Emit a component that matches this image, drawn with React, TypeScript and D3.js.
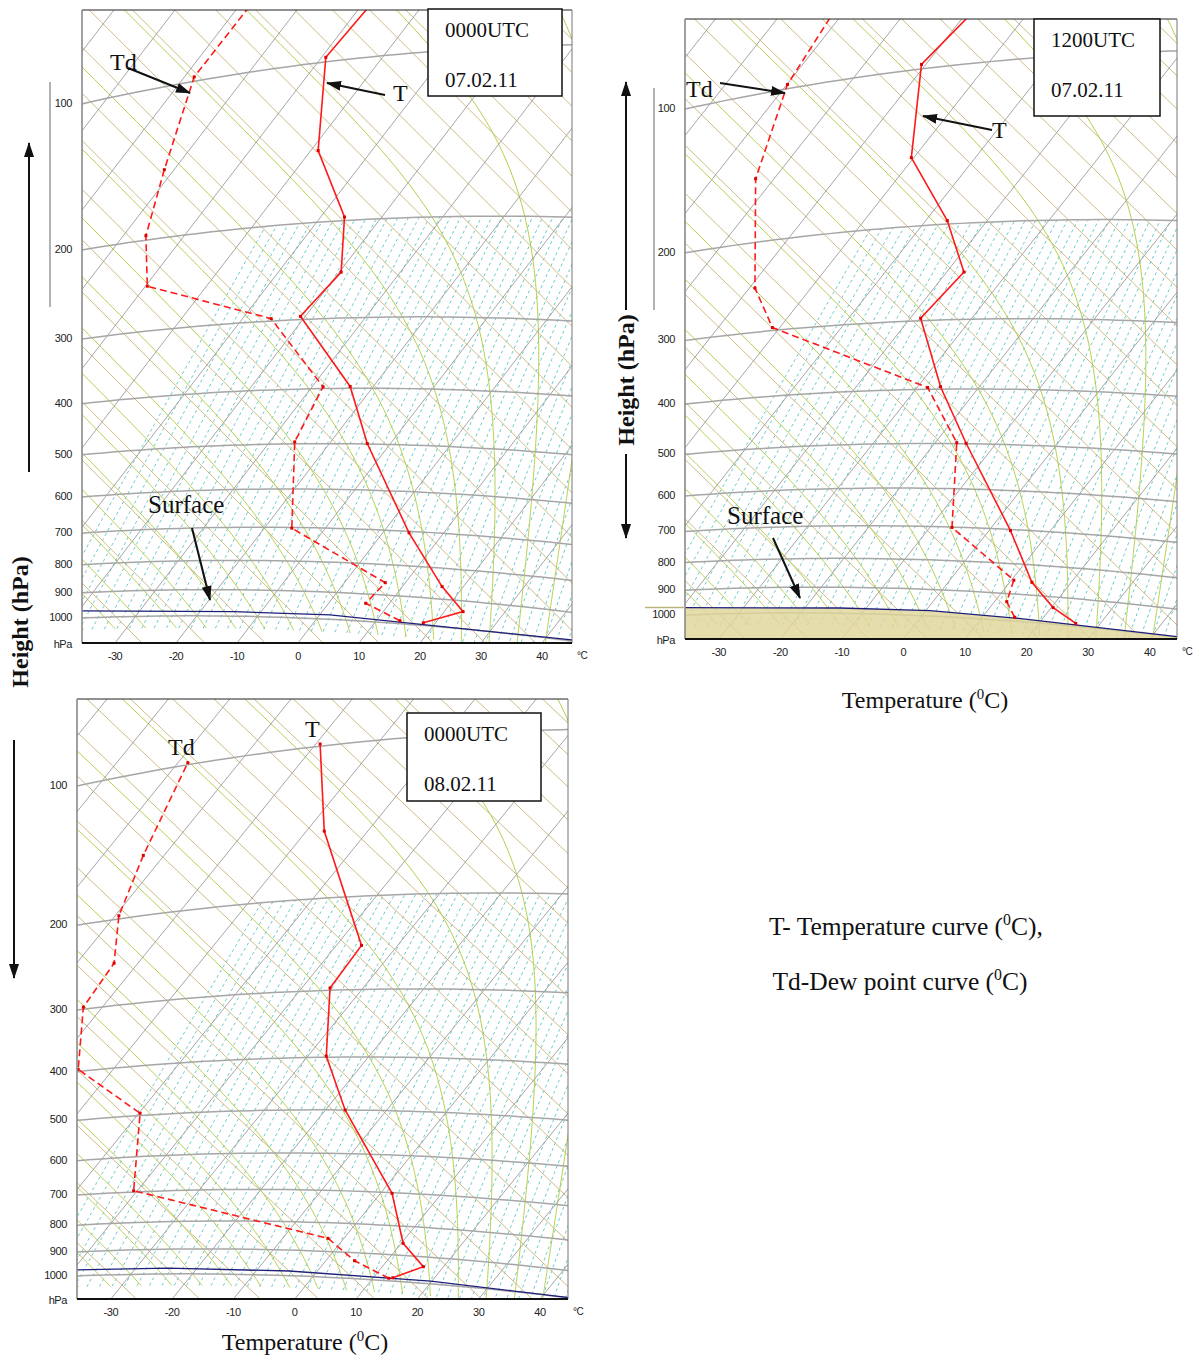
import React from "react";
import * as d3 from "d3";

// thermodynamic constants
const T0 = 273.15;
const KAPPA = 0.2857;
const EPS = 0.622;

// tephigram frame: screen x ~ AX*T + BX*phi, screen y ~ CY*T + DY*phi, phi = T0*ln(theta/T0)
const AX = 3.448, BX = 2.448, CY = 3.448, DY = -3.182;

const isobarLevels = [100, 200, 300, 400, 500, 600, 700, 800, 900, 1000];
const tempTicks = [-30, -20, -10, 0, 10, 20, 30, 40];
const isotherms = d3.range(-140, 61, 10);
const dryAdiabats = d3.range(200, 601, 10); // potential temperature, K
const moistAdiabats = d3.range(-45, 46, 5); // wet-bulb potential temperature, C
const mixDew = d3.range(-44, 45, 2); // dew point at 1000 hPa, C

// 0000UTC 07.02.11
const tempP1 = [990, 937, 858, 704, 499, 397, 296, 248, 197, 147, 98, 75];
const tempT1 = [18.0, 23.1, 16.5, 4.3, -13.8, -23.8, -40.8, -39.7, -46.1, -58.8, -69.3, -68.4];
const dewP1 = [989, 933, 858, 702, 496, 397, 297, 246, 196, 147, 98, 69];
const dewT1 = [13.9, 6.1, 6.7, -15.5, -25.9, -28.2, -45.3, -69.7, -76.3, -81.6, -88.4, -88.2];
const surfT1 = [-50, -39.4, -14.6, 1.7, 44.5, 50];
const surfP1 = [970, 971, 982, 983, 996, 997];

// 1200UTC 07.02.11
const tempP2 = [989, 938, 856, 703, 499, 396, 297, 246, 197, 148, 98, 74];
const tempT2 = [26.0, 20.3, 13.6, 3.5, -14.9, -26.3, -38.3, -37.2, -46.5, -60.4, -70.7, -68.5];
const dewP2 = [985, 929, 853, 701, 498, 397, 296, 246, 149, 98, 67];
const dewT2 = [15.3, 12.0, 10.4, -6.4, -16.5, -28.3, -61.2, -69.1, -83.0, -89.9, -92.1];
const surfT2 = [-50, -39.5, -14.3, 0.7, 16.1, 44.1, 50];
const surfP2 = [968, 969, 979, 979, 988, 997, 998];

// 0000UTC 08.02.11
const tempP3 = [987, 936, 857, 702, 500, 398, 297, 248, 148, 99];
const tempT3 = [13.2, 16.7, 10.3, 1.9, -16.8, -27.0, -35.4, -35.9, -57.1, -69.3];
const dewP3 = [990, 930, 853, 696, 495, 396, 297, 246, 197, 150, 99];
const dewT3 = [12.6, 4.7, -2.6, -40.6, -49.8, -65.7, -73.1, -73.9, -79.4, -83.4, -88.4];
const surfT3 = [-50, -39.4, -24.8, -4.6, 19.8, 44.2, 50];
const surfP3 = [973, 974, 976, 981, 989, 999, 1000];

type Panel = {
  id: string;
  left: number; right: number; top: number; bottom: number;
  x: d3.ScaleLinear<number, number>;
  y: d3.ScaleLinear<number, number>;
  temp: [number[], number[]];
  dew: [number[], number[]];
  surf: [number[], number[]];
  fill: boolean;
};

const mk = (ox: number, sx: number) => d3.scaleLinear().domain([0, 100]).range([ox, ox + 100 * sx]);

const panels: Panel[] = [
  { id: "a", left: 82, right: 572, top: 10, bottom: 643, x: mk(316.7, 1), y: mk(618.7, 1),
    temp: [tempT1, tempP1], dew: [dewT1, dewP1], surf: [surfT1, surfP1], fill: false },
  { id: "b", left: 685, right: 1177, top: 19, bottom: 639, x: mk(921.8, 1.009), y: mk(615.7, 0.984),
    temp: [tempT2, tempP2], dew: [dewT2, dewP2], surf: [surfT2, surfP2], fill: true },
  { id: "c", left: 77, right: 568, top: 699, bottom: 1299, x: mk(312.9, 1.005), y: mk(1276.6, 0.953),
    temp: [tempT3, tempP3], dew: [dewT3, dewP3], surf: [surfT3, surfP3], fill: false },
];

function proj(pn: Panel, t: number, p: number): [number, number] {
  const th = (t + T0) * Math.pow(1000 / p, KAPPA);
  const phi = T0 * Math.log(th / T0);
  return [pn.x(AX * t + BX * phi), pn.y(CY * t + DY * phi)];
}

const es = (tc: number) => 6.112 * Math.exp((17.67 * tc) / (tc + 243.5));

function lapse(tk: number, p: number) {
  const e = es(tk - T0);
  const rs = (EPS * e) / (p - e);
  const L = 2.501e6;
  return (287.04 * tk + L * rs) / (p * (1005.7 + (L * L * rs * EPS) / (287.04 * tk * tk)));
}

function moistCurve(tw: number): [number, number][] {
  const up: [number, number][] = [];
  let tk = tw + T0;
  for (let p = 1000; p >= 40; p -= 5) {
    up.push([tk - T0, p]);
    const k1 = lapse(tk, p);
    const k2 = lapse(tk - 5 * k1, p - 5);
    tk -= 2.5 * (k1 + k2);
  }
  const down: [number, number][] = [];
  tk = tw + T0;
  for (let p = 1000; p < 1050; p += 5) {
    const k1 = lapse(tk, p);
    const k2 = lapse(tk + 5 * k1, p + 5);
    tk += 2.5 * (k1 + k2);
    down.push([tk - T0, p + 5]);
  }
  return [...down.reverse(), ...up];
}

function mixCurve(td0: number): [number, number][] {
  const e0 = es(td0);
  const r = (EPS * e0) / (1000 - e0);
  return d3.range(1050, 199, -10).map((p) => {
    const e = (r * p) / (EPS + r);
    const l = Math.log(e / 6.112);
    return [(243.5 * l) / (17.67 - l), p] as [number, number];
  });
}

const line = d3.line();

function leftPoint(pn: Panel, p: number): [number, number] {
  let lo = -250, hi = 120;
  for (let i = 0; i < 60; i++) {
    const mid = (lo + hi) / 2;
    if (proj(pn, mid, p)[0] < pn.left) lo = mid; else hi = mid;
  }
  return proj(pn, lo, p);
}

function bottomX(pn: Panel, t: number) {
  const phi = (pn.y.invert(pn.bottom) - CY * t) / DY;
  return pn.x(AX * t + BX * phi);
}

const moistPaths = moistAdiabats.map(moistCurve);
const mixPaths = mixDew.map(mixCurve);

function SkewPanel({ pn }: { pn: Panel }) {
  const P = (pts: [number, number][]) => line(pts.map(([t, p]) => proj(pn, t, p))) || "";
  const pair = (ts: number[], ps: number[]) => ts.map((t, i) => [t, ps[i]] as [number, number]);
  const tempPts = pair(pn.temp[0], pn.temp[1]).map(([t, p]) => proj(pn, t, p));
  const dewPts = pair(pn.dew[0], pn.dew[1]).map(([t, p]) => proj(pn, t, p));
  const surfPts = pair(pn.surf[0], pn.surf[1]).map(([t, p]) => proj(pn, t, p));
  const fillPts: [number, number][] = [...surfPts, [pn.right + 20, pn.bottom], [pn.left - 20, pn.bottom]];
  return (
    <g>
      <g clipPath={`url(#clip-${pn.id})`}>
        {mixPaths.map((c, i) => (
          <path key={`mr${i}`} d={P(c)} stroke="#58c3c6" strokeWidth={0.9} strokeDasharray="3,3" fill="none" />
        ))}
        {dryAdiabats.map((th) => (
          <path key={`da${th}`}
            d={P([1300, 15].map((p) => [th * Math.pow(p / 1000, KAPPA) - T0, p] as [number, number]))}
            stroke="#cfbb84" strokeWidth={1} fill="none" />
        ))}
        {moistPaths.map((c, i) => (
          <path key={`ma${i}`} d={P(c)} stroke="#b6cf4c" strokeWidth={1} fill="none" />
        ))}
        {isotherms.map((t) => (
          <path key={`it${t}`} d={P([[t, 1300], [t, 15]])} stroke="#9c9c9c" strokeWidth={0.9} fill="none" />
        ))}
        {isobarLevels.map((p) => (
          <path key={`ib${p}`} d={P(d3.range(-160, 62, 2).map((t) => [t, p] as [number, number]))}
            stroke="#a6a6a6" strokeWidth={1.5} fill="none" />
        ))}
        {pn.fill && <path d={line(fillPts) || ""} fill="#e0d69a" fillOpacity={0.82} />}
        <path d={line(surfPts) || ""} stroke="#1f1f7a" strokeWidth={1.3} fill="none" />
        <path d={line(dewPts) || ""} stroke="#ff1a1a" strokeWidth={1.6} strokeDasharray="7,4" fill="none" />
        <path d={line(tempPts) || ""} stroke="#ff1a1a" strokeWidth={1.6} fill="none" />
        {[...tempPts, ...dewPts].map(([x, y], i) => (
          <rect key={`mk${i}`} x={x - 1.5} y={y - 1.5} width={3} height={3} fill="#e00000" />
        ))}
      </g>
      {/* frame */}
      <line x1={pn.left} x2={pn.right} y1={pn.top} y2={pn.top} stroke="#222" strokeWidth={1} />
      <line x1={pn.right} x2={pn.right} y1={pn.top} y2={pn.bottom} stroke="#777" strokeWidth={1} />
      <line x1={pn.left} x2={pn.left} y1={pn.top} y2={pn.bottom} stroke="#8a8a8a" strokeWidth={1.6} />
      <line x1={pn.left} x2={pn.right} y1={pn.bottom} y2={pn.bottom} stroke="#111" strokeWidth={1.8} />
      {/* pressure labels */}
      <g fontFamily="Liberation Sans, Arial, sans-serif" fontSize={11} fill="#222">
        {isobarLevels.map((p) => {
          const [, y] = leftPoint(pn, p);
          return (
            <text key={`pl${p}`} x={pn.left - 10} y={y + 3} textAnchor="end" letterSpacing={-0.4}>{p}</text>
          );
        })}
        <text x={pn.left - 10} y={pn.bottom + 5} textAnchor="end" letterSpacing={-0.4}>hPa</text>
        {tempTicks.map((t) => (
          <text key={`tl${t}`} x={bottomX(pn, t)} y={pn.bottom + 17} textAnchor="middle" letterSpacing={-0.4}>{t}</text>
        ))}
        <text x={pn.right + 5} y={pn.bottom + 16} fontSize={10} letterSpacing={-0.4}>°C</text>
      </g>
    </g>
  );
}

const Arrow = ({ x1, y1, x2, y2 }: { x1: number; y1: number; x2: number; y2: number }) => (
  <line x1={x1} y1={y1} x2={x2} y2={y2} stroke="#111" strokeWidth={2} markerEnd="url(#arr)" />
);

const Stamp = ({ x, y, w, h, a, b }: { x: number; y: number; w: number; h: number; a: string; b: string }) => (
  <g>
    <rect x={x} y={y} width={w} height={h} fill="#fff" stroke="#111" strokeWidth={1.5} />
    <text x={x + 17} y={y + 28} fontSize={21}>{a}</text>
    <text x={x + 17} y={y + 78} fontSize={21}>{b}</text>
  </g>
);

const DegLabel = ({ x, y, pre, post, size }: { x: number; y: number; pre: string; post: string; size: number }) => (
  <text x={x} y={y} fontSize={size} textAnchor="middle">
    {pre}
    <tspan fontSize={size * 0.62} dy={-size * 0.38}>0</tspan>
    <tspan dy={size * 0.38}>{post}</tspan>
  </text>
);

export default function App() {
  return (
    <svg width={1203} height={1358} style={{ position: "absolute", left: 0, top: 0, background: "#fff" }}
      fontFamily="Liberation Serif, Times New Roman, serif" fill="#111">
      <defs>
        <marker id="arr" markerUnits="userSpaceOnUse" markerWidth={16} markerHeight={12} refX={14} refY={5} orient="auto">
          <path d="M0,0 L15,5 L0,10 z" fill="#111" />
        </marker>
        {panels.map((pn) => (
          <clipPath key={pn.id} id={`clip-${pn.id}`}>
            <rect x={pn.left} y={pn.top} width={pn.right - pn.left} height={pn.bottom - pn.top} />
          </clipPath>
        ))}
      </defs>
      {panels.map((pn) => <SkewPanel key={pn.id} pn={pn} />)}

      {/* panel a annotations */}
      <Stamp x={428} y={9} w={134} h={87} a="0000UTC" b="07.02.11" />
      <text x={110} y={70} fontSize={24}>Td</text>
      <Arrow x1={128} y1={68} x2={190} y2={93} />
      <text x={393} y={101} fontSize={24}>T</text>
      <Arrow x1={385} y1={95} x2={327} y2={83} />
      <text x={148} y={513} fontSize={25}>Surface</text>
      <Arrow x1={192} y1={528} x2={210} y2={600} />
      <line x1={50} x2={50} y1={82} y2={307} stroke="#888" strokeWidth={1.3} />
      <Arrow x1={29} y1={472} x2={29} y2={143} />
      <text transform="translate(28,622) rotate(-90)" fontSize={24} fontWeight="bold" textAnchor="middle">Height (hPa)</text>

      {/* panel b annotations */}
      <Stamp x={1034} y={19} w={126} h={97} a="1200UTC" b="07.02.11" />
      <text x={686} y={97} fontSize={24}>Td</text>
      <Arrow x1={720} y1={83} x2={785} y2={93} />
      <text x={992} y={138} fontSize={24}>T</text>
      <Arrow x1={992} y1={130} x2={923} y2={116} />
      <text x={727} y={524} fontSize={25}>Surface</text>
      <Arrow x1={773} y1={538} x2={800} y2={598} />
      <line x1={645} x2={685} y1={607.5} y2={607.5} stroke="#b9b27a" strokeWidth={1.5} />
      <line x1={654} x2={654} y1={88} y2={310} stroke="#888" strokeWidth={1.3} />
      <Arrow x1={626} y1={310} x2={626} y2={82} />
      <Arrow x1={626} y1={454} x2={626} y2={538} />
      <text transform="translate(634,380) rotate(-90)" fontSize={24} fontWeight="bold" textAnchor="middle">Height (hPa)</text>
      <DegLabel x={925} y={708} pre="Temperature (" post="C)" size={24} />

      {/* panel c annotations */}
      <Stamp x={407} y={713} w={134} h={88} a="0000UTC" b="08.02.11" />
      <text x={168} y={755} fontSize={24}>Td</text>
      <text x={305} y={737} fontSize={24}>T</text>
      <Arrow x1={14} y1={740} x2={14} y2={978} />
      <DegLabel x={305} y={1350} pre="Temperature (" post="C)" size={24} />

      {/* legend */}
      <DegLabel x={906} y={935} pre="T- Temperature curve (" post="C)," size={25.5} />
      <DegLabel x={900} y={990} pre="Td-Dew point curve (" post="C)" size={25.5} />
    </svg>
  );
}
